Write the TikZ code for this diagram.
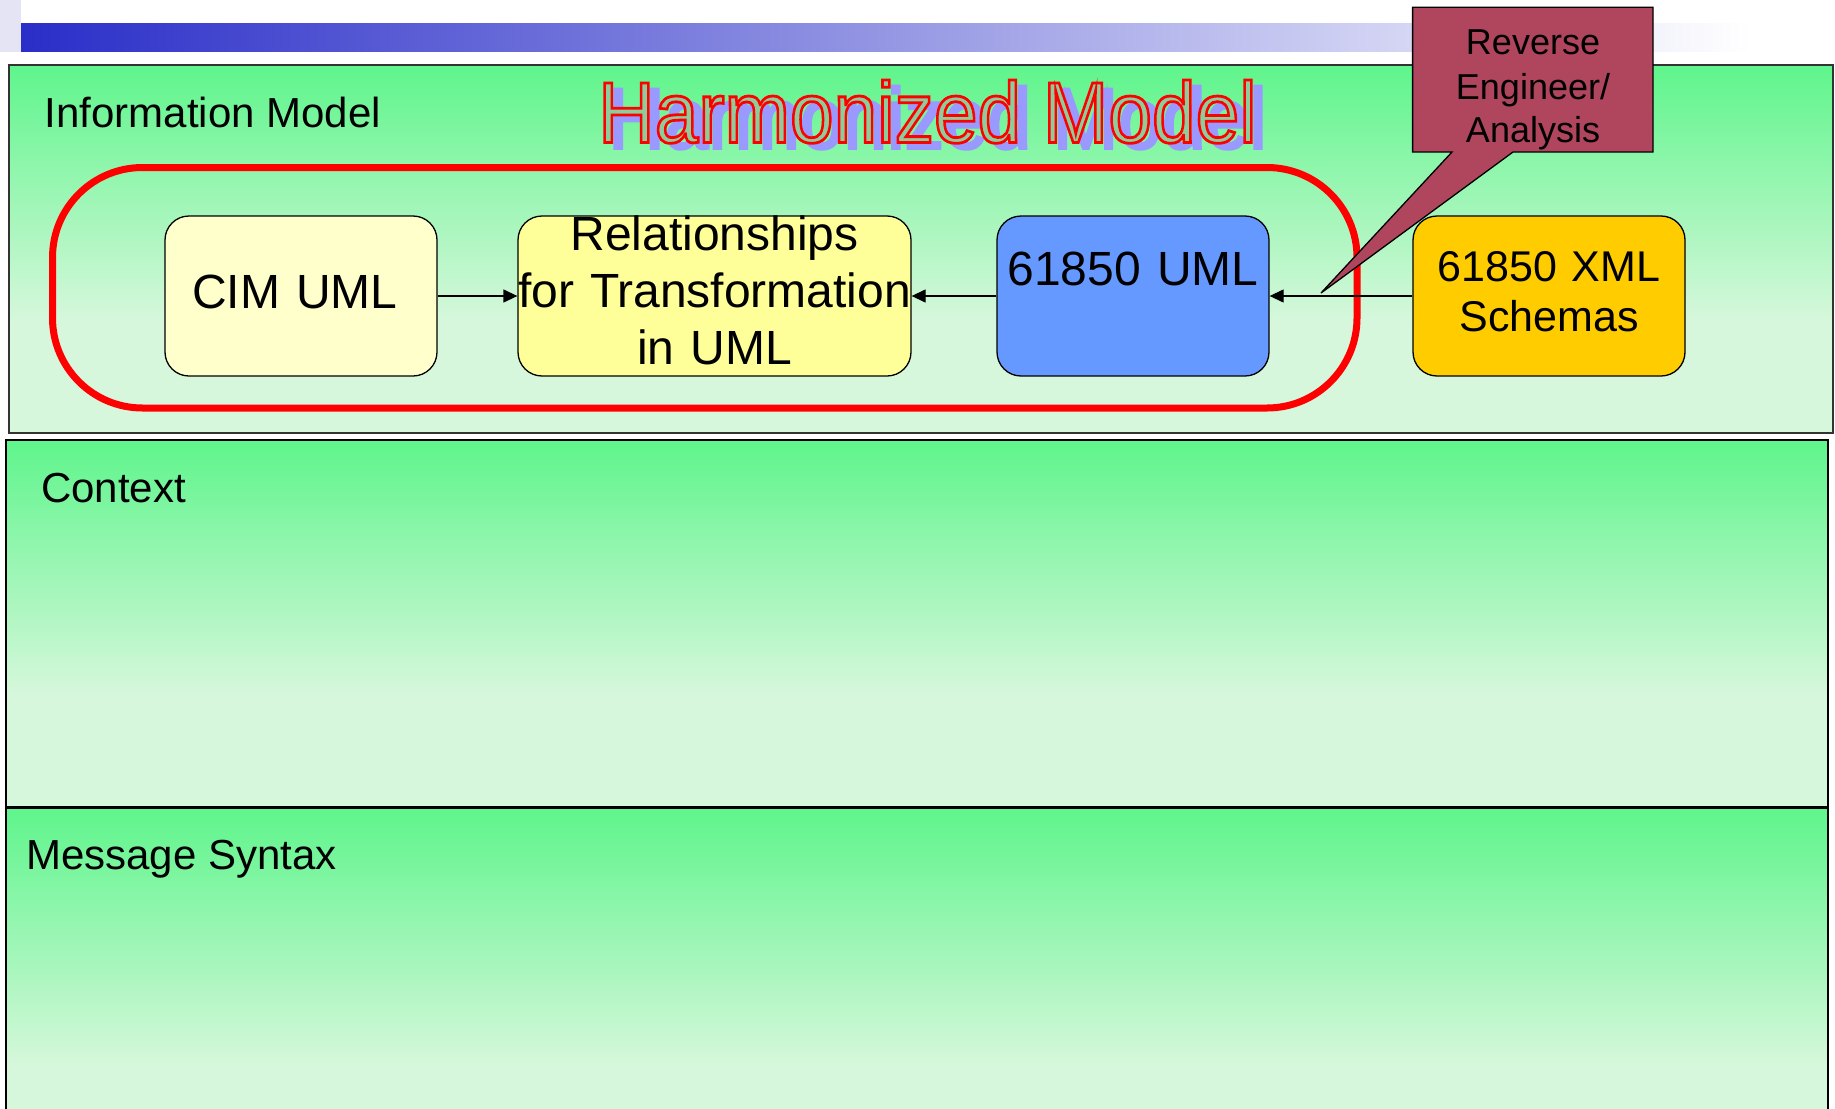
\documentclass[tikz,border=0pt]{standalone}
\usepackage{fontspec}
\setmainfont{Liberation Sans}
\newfontface\hmface{Liberation Sans}[FakeBold=3.2]
\usetikzlibrary{arrows.meta}
\definecolor{pgreen}{RGB}{95,245,140}
\definecolor{ppale}{RGB}{215,247,220}
\definecolor{barblue}{RGB}{42,46,200}
\definecolor{barpale}{RGB}{228,228,244}
\definecolor{cimfill}{RGB}{255,255,204}
\definecolor{relfill}{RGB}{255,255,153}
\definecolor{umlfill}{RGB}{102,153,255}
\definecolor{xmlfill}{RGB}{255,204,0}
\definecolor{callfill}{RGB}{176,69,94}
\definecolor{hmshadow}{RGB}{153,153,255}
\pgfdeclareverticalshading{panelshade}{100bp}{color(0bp)=(ppale); color(40bp)=(ppale); color(75bp)=(pgreen); color(100bp)=(pgreen)}
\newcommand\hmtext{\scalebox{1}[1.1]{Harmonized Model}}
\tikzset{
  panel/.style={shading=panelshade},
  box/.style={draw=black, line width=1.3pt, rounded corners=24pt, inner sep=0pt, minimum height=160pt},
  lbl/.style={font=\fontsize{42}{50}\selectfont, anchor=base west, inner sep=0pt},
  btxt/.style={font=\fontsize{48}{57}\selectfont, anchor=base, inner sep=0pt, align=center, text width=420pt},
  arr/.style={line width=1.3pt, -{Triangle[length=14pt,width=13pt]}},
  hm/.style={font=\hmface\fontsize{78.5}{90}\selectfont, anchor=base, inner sep=0pt},
}
\begin{document}
\begin{tikzpicture}[x=1pt,y=-1pt]
\useasboundingbox (0,0) rectangle (1835,1108);
\clip (0,0) rectangle (1835,1108);
\fill[white] (0,0) rectangle (1835,1108);
% top decoration bar
\fill[barpale] (0,0) rectangle (21,52);
\shade[left color=barblue, right color=white] (21,24) rectangle (1750,52);
% panels
\shade[panel] (9,65) rectangle (1833,433);
\draw[black!80, line width=1.5pt] (9,65) rectangle (1833,433);
\shade[panel] (5.5,440) rectangle (1828,807);
\draw[black, line width=2pt] (5.5,440) rectangle (1828,807);
\shade[panel] (5.5,808) rectangle (1828,1180);
\draw[black, line width=2pt] (5.5,808) rectangle (1828,1180);
% panel labels
\node[lbl] (lblinfo) at (44.5,127) {Information Model};
\node[lbl] (lblctx) at (41,502.5) {Context};
\node[lbl] (lblmsg) at (26,869) {Message Syntax};
% Harmonized Model word art (shadow, then outlined text)
\node[hm] (hmshad) at (937.5,148.5) {\color{hmshadow}\hmtext};
\node[hm] (hmtitle) at (927.5,142.5) {\special{pdf:bcolor [0.56 0.80 0.61] [1 0 0]}\hmtext\special{pdf:ecolor}};
% harmonized boundary
\draw[red, line width=7pt, rounded corners=90pt] (52.5,167.5) rectangle (1357,408);
% boxes
\node[box, fill=cimfill, minimum width=272pt] (cim) at (301,296) {};
\node[box, fill=relfill, minimum width=393pt] (rel) at (714.5,296) {};
\node[box, fill=umlfill, minimum width=272pt] (uml) at (1133,296) {};
\node[box, fill=xmlfill, minimum width=272pt] (xml) at (1549,296) {};
\node[btxt] (cimtxt) at (295,308) {CIM UML};
\node[btxt] (reltxt) at (714.5,250) {Relationships\\for Transformation\\in UML};
\node[btxt] (umltxt) at (1133,285) {61850 UML};
\node[btxt, font=\fontsize{43}{50}\selectfont] (xmltxt) at (1549,281.7) {61850 XML\\Schemas};
% connectors
\draw[arr] (cim.east) -- (rel.west);
\draw[arr] (uml.west) -- (rel.east);
\draw[arr] (xml.west) -- (uml.east);
% callout
\coordinate (tip) at (1321,293);
\draw[fill=callfill, line width=1.3pt, line join=miter]
  (1412.6,7.3) -- (1653,7.3) -- (1653,152) -- (1513,152) -- (tip) -- (1452,152) -- (1412.6,152) -- cycle;
\node[btxt, font=\fontsize{36}{44}\selectfont, text width=240pt] (calltxt) at (1533,55) {Reverse\\Engineer/\\Analysis};
\end{tikzpicture}
\end{document}
